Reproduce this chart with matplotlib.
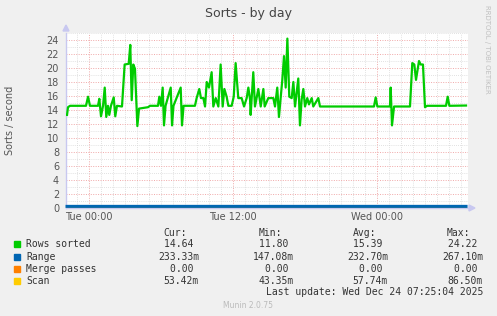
import matplotlib
matplotlib.use("Agg")
import matplotlib.pyplot as plt
from matplotlib.ticker import MultipleLocator

# ---- data (hours relative to Tue 00:00) ----
rows_t = [-1.83, -1.75, -1.58, -0.25, -0.08, 0.08, 0.75, 0.86, 1.0, 1.17, 1.31, 1.44, 1.58, 1.69,
          1.83, 2.06, 2.19, 2.33, 2.75, 2.97, 3.31, 3.44, 3.56, 3.69, 3.83, 4.03, 4.17, 4.92,
          5.08, 5.75, 5.86, 6.0, 6.14, 6.25, 6.38, 6.81, 6.92, 7.04, 7.64, 7.75, 7.88, 8.83,
          8.97, 9.19, 9.33, 9.53, 9.67, 9.81, 10.0, 10.22, 10.36, 10.56, 10.78, 10.97, 11.14,
          11.28, 11.47, 11.61, 11.89, 12.06, 12.22, 12.44, 12.72, 12.92, 13.14, 13.28, 13.42,
          13.47, 13.69, 13.83, 14.11, 14.31, 14.53, 14.64, 14.94, 15.36, 15.5, 15.69, 15.83,
          15.97, 16.11, 16.25, 16.39, 16.53, 16.69, 16.89, 17.03, 17.17, 17.44, 17.58, 17.72,
          17.86, 18.0, 18.19, 18.33, 18.56, 18.69, 19.11, 19.25, 23.75, 23.89, 24.03, 25.08,
          25.14, 25.25, 25.42, 26.75, 26.94, 27.11, 27.25, 27.36, 27.5, 27.64, 27.83, 28.0,
          28.17, 29.75, 29.89, 30.03, 31.42]
rows_v = [13.3, 14.4, 14.6, 14.6, 15.9, 14.6, 14.6, 15.6, 13.1, 14.6, 17.2, 13.0, 14.6, 13.3,
          14.6, 15.8, 13.1, 14.6, 14.5, 20.5, 20.6, 23.3, 15.4, 20.5, 19.9, 11.7, 14.2, 14.4,
          14.6, 14.6, 15.9, 14.6, 17.2, 11.8, 14.6, 17.2, 11.8, 14.6, 17.2, 11.8, 14.6, 14.6,
          15.7, 17.0, 15.7, 15.7, 14.5, 18.0, 17.2, 19.4, 14.5, 15.7, 14.5, 20.5, 14.5,
          17.0, 15.9, 14.6, 14.6, 15.9, 20.7, 15.7, 15.7, 14.5, 15.7, 17.2, 15.5,
          13.3, 19.4, 14.5, 17.0, 14.5, 17.0, 14.5, 15.7, 15.7, 14.5, 17.2, 13.0,
          15.7, 18.3, 21.7, 17.2, 24.2, 15.9, 15.7, 18.0, 14.5, 18.5, 11.8, 15.5,
          17.0, 14.5, 15.7, 14.8, 15.7, 14.5, 15.7, 14.5, 14.5, 15.8, 14.5, 14.5,
          17.2, 11.8, 14.5, 14.5, 20.7, 20.5, 18.3, 19.5, 21.0, 20.5, 20.5, 14.4,
          14.6, 14.6, 15.9, 14.6, 14.64]

range_t = [-1.83, 3.5, 10.0, 16.5, 27.4, 31.42]
range_v = [0.233, 0.232, 0.233, 0.232, 0.233, 0.233]

merge_t = [-1.83, 31.42]
merge_v = [0.0, 0.0]

scan_t = [-1.83, 3.4, 3.6, 10.3, 10.5, 16.2, 16.4, 27.3, 27.5, 31.42]
scan_v = [0.055, 0.055, 0.086, 0.055, 0.08, 0.055, 0.08, 0.055, 0.08, 0.053]

legend_names = ["Rows sorted", "Range", "Merge passes", "Scan"]
legend_colors = ["#00CC00", "#0066B3", "#FF8000", "#FFCC00"]
cur_vals = ["14.64 ", "233.33m", "0.00 ", "53.42m"]
min_vals = ["11.80 ", "147.08m", "0.00 ", "43.35m"]
avg_vals = ["15.39 ", "232.70m", "0.00 ", "57.74m"]
max_vals = ["24.22 ", "267.10m", "0.00 ", "86.50m"]

xtick_pos = [0, 12, 24]
xtick_labels = ["Tue 00:00", "Tue 12:00", "Wed 00:00"]

W, H = 497, 316
fig = plt.figure(figsize=(W / 100, H / 100), dpi=100, facecolor="#F0F0F0")

def fx(px):
    return px / W

def fy(py):
    return 1 - py / H

x0, x1, ytop, ybot = 66, 468, 33, 208
ax = fig.add_axes([fx(x0), fy(ybot), (x1 - x0) / W, (ybot - ytop) / H])
ax.set_facecolor("white")
ax.set_xlim((x0 - 89) / 12, (x1 - 89) / 12)
ax.set_ylim(0, 25)

ax.xaxis.set_major_locator(MultipleLocator(6))
ax.xaxis.set_minor_locator(MultipleLocator(1))
ax.yaxis.set_major_locator(MultipleLocator(2))
ax.yaxis.set_minor_locator(MultipleLocator(1))
ax.grid(which="minor", color="#D8D8D8", linestyle=(0, (1, 1.5)), linewidth=0.6)
ax.grid(which="major", color="#F0A8A8", linestyle=(0, (1, 1.5)), linewidth=0.7)
ax.set_axisbelow(True)

ax.set_xticks(xtick_pos)
ax.set_xticklabels(xtick_labels)
ax.set_yticks(range(0, 25, 2))
ax.tick_params(which="both", length=0, colors="#555555", labelsize=7)
ax.tick_params(axis="x", pad=3)
ax.tick_params(axis="y", pad=5)

for s in ["top", "right"]:
    ax.spines[s].set_visible(False)
ax.spines["left"].set_color("#C8C8F0")
ax.spines["bottom"].set_color("#C8C8F0")
ax.spines["left"].set_linewidth(1)
ax.spines["bottom"].set_linewidth(1)

ax.plot(rows_t, rows_v, color=legend_colors[0], linewidth=1.6, zorder=3)
ax.plot(merge_t, merge_v, color=legend_colors[2], linewidth=1.0, zorder=3)
ax.plot(scan_t, scan_v, color=legend_colors[3], linewidth=1.0, zorder=3)
ax.plot(range_t, range_v, color=legend_colors[1], linewidth=2.2, zorder=4, clip_on=False)

# axis arrows
fig.patches.append(plt.Polygon([[fx(63), fy(31)], [fx(69), fy(31)], [fx(66), fy(25)]],
                               closed=True, transform=fig.transFigure, color="#C8C8F0"))
fig.patches.append(plt.Polygon([[fx(469), fy(205)], [fx(469), fy(211)], [fx(475), fy(208)]],
                               closed=True, transform=fig.transFigure, color="#C8C8F0"))

ax.set_ylabel("Sorts / second", fontsize=7, color="#555555")
ax.yaxis.set_label_coords((15 - x0) / (x1 - x0), 0.5)

fig.text(0.5, fy(13), "Sorts - by day", ha="center", va="center", fontsize=9, color="#444444")
fig.text(fx(487), fy(5), "RRDTOOL / TOBI OETIKER", rotation=270, ha="center", va="top",
         fontsize=5, color="#C0C0C0")

mono = "DejaVu Sans Mono"
fs = 7
tc = "#333333"
for txt, xr in [("Cur:", 187), ("Min:", 282), ("Avg:", 376), ("Max:", 470)]:
    fig.text(fx(xr), fy(233), txt, ha="right", va="center", family=mono, fontsize=fs, color=tc)

row_y = [244, 256.5, 269, 280.7]
for i in range(4):
    y = row_y[i]
    fig.patches.append(plt.Rectangle((fx(14), fy(y + 3)), 6 / W, 6 / H, transform=fig.transFigure,
                                     color=legend_colors[i]))
    fig.text(fx(26), fy(y), legend_names[i], ha="left", va="center", family=mono, fontsize=fs, color=tc)
    for vals, xr in [(cur_vals, 199), (min_vals, 294), (avg_vals, 388), (max_vals, 483)]:
        fig.text(fx(xr), fy(y), vals[i], ha="right", va="center", family=mono, fontsize=fs, color=tc)

fig.text(fx(483), fy(292.3), "Last update: Wed Dec 24 07:25:04 2025", ha="right", va="center",
         family=mono, fontsize=fs, color=tc)
fig.text(fx(248), fy(305), "Munin 2.0.75", ha="center", va="center", fontsize=5.5, color="#BBBBBB")

fig.savefig("out.png", dpi=100, facecolor=fig.get_facecolor())
